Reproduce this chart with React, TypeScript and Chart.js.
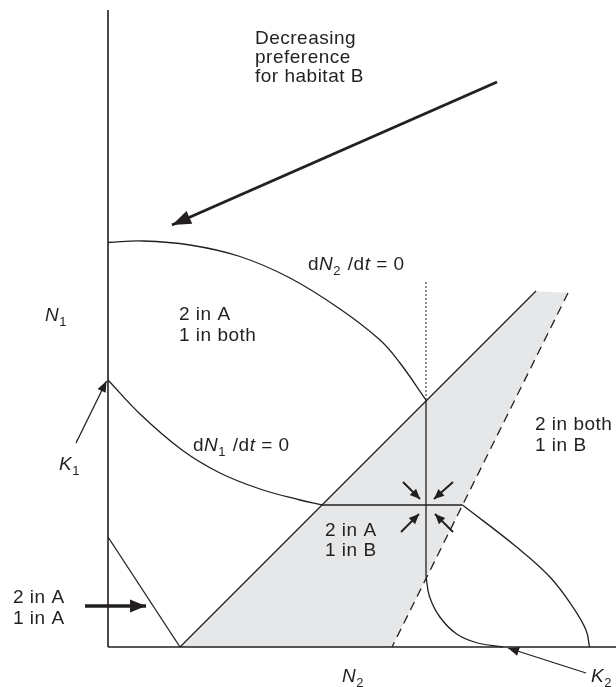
import React, { useEffect, useRef } from "react";
import { Chart, registerables } from "chart.js";

Chart.register(...registerables);

type P = { x: number; y: number };

// ---- scale extents (N2 horizontal, N1 vertical), arbitrary units ----
const N2_MIN = -21.6;
const N2_MAX = 101.6;
const N1_MIN = -8;
const N1_MAX = 129.4;

// ---- axes ----
const xAxisLine: P[] = [{ x: 0, y: 0 }, { x: 101.6, y: 0 }];
const yAxisLine: P[] = [{ x: 0, y: 0 }, { x: 0, y: 127.4 }];

// ---- shaded region (2 in A, 1 in B) ----
const shadedRegion: P[] = [
  { x: 14.4, y: 0 },
  { x: 85.6, y: 71.2 },
  { x: 92, y: 70.8 },
  { x: 56.8, y: 0 },
  { x: 14.4, y: 0 },
];
const diagonalBoundary: P[] = [{ x: 14.4, y: 0 }, { x: 85.6, y: 71.2 }];
const dashedBoundary: P[] = [{ x: 92, y: 70.8 }, { x: 56.8, y: 0 }];
const leftBoundary: P[] = [{ x: 0, y: 22 }, { x: 14.4, y: 0 }];

// ---- dN2/dt = 0 isocline ----
const n2IsoclineArc: P[] = [
  { x: 0, y: 80.9 },
  { x: 7, y: 81.2 },
  { x: 16.4, y: 80.4 },
  { x: 26.4, y: 78.1 },
  { x: 36.4, y: 73.8 },
  { x: 46.4, y: 67.6 },
  { x: 54.4, y: 61.4 },
  { x: 58.4, y: 56.8 },
  { x: 63.6, y: 49.4 },
];
const n2IsoclineDotted: P[] = [{ x: 63.6, y: 73 }, { x: 63.6, y: 49.4 }];
const n2IsoclineVertical: P[] = [{ x: 63.6, y: 49.4 }, { x: 63.6, y: 14.1 }];
const n2IsoclineTail: P[] = [
  { x: 63.6, y: 14.1 },
  { x: 64.3, y: 10.1 },
  { x: 66.3, y: 6.1 },
  { x: 69.6, y: 2.7 },
  { x: 73.6, y: 0.9 },
  { x: 79, y: 0 },
];

// ---- dN1/dt = 0 isocline ----
const n1IsoclineCurve: P[] = [
  { x: 0, y: 53.4 },
  { x: 6.4, y: 46.6 },
  { x: 14.8, y: 39.4 },
  { x: 22.4, y: 34.8 },
  { x: 30.4, y: 31.6 },
  { x: 38.4, y: 29.4 },
  { x: 42.8, y: 28.4 },
];
const n1IsoclineFlat: P[] = [{ x: 42.8, y: 28.4 }, { x: 70.9, y: 28.4 }];
const n1IsoclineTail: P[] = [
  { x: 70.9, y: 28.4 },
  { x: 81.6, y: 20.1 },
  { x: 88.3, y: 14.1 },
  { x: 92.9, y: 8.1 },
  { x: 95.6, y: 3.4 },
  { x: 96.3, y: 0 },
];

// ---- arrows (tail -> tip) ----
const preferenceArrow: P[] = [{ x: 77.8, y: 113 }, { x: 12.8, y: 84.4 }];
const k1Arrow: P[] = [{ x: -6.4, y: 40.8 }, { x: -0.3, y: 53.2 }];
const k2Arrow: P[] = [{ x: 95.6, y: -5.2 }, { x: 80, y: -0.2 }];
const oneInAArrow: P[] = [{ x: -4.6, y: 8.2 }, { x: 7.6, y: 8.2 }];
const eqArrowUL: P[] = [{ x: 59, y: 33 }, { x: 62.4, y: 29.6 }];
const eqArrowUR: P[] = [{ x: 69, y: 33 }, { x: 65.2, y: 29.6 }];
const eqArrowLL: P[] = [{ x: 58.6, y: 23 }, { x: 62.2, y: 26.6 }];
const eqArrowLR: P[] = [{ x: 69, y: 23 }, { x: 65.4, y: 26.6 }];

// ---- text labels ----
type Run = { t: string; i?: boolean; sub?: boolean };
type Label = { x: number; y: number; lines: Run[][]; gap?: number };

const labels: Label[] = [
  {
    x: 29.4,
    y: 120.6,
    gap: 19,
    lines: [[{ t: "Decreasing" }], [{ t: "preference" }], [{ t: "for habitat B" }]],
  },
  { x: 14.2, y: 65.4, gap: 21, lines: [[{ t: "2 in A" }], [{ t: "1 in both" }]] },
  {
    x: 40,
    y: 75.4,
    lines: [[{ t: "d" }, { t: "N", i: true }, { t: "2", sub: true }, { t: " /d" }, { t: "t", i: true }, { t: " = 0" }]],
  },
  {
    x: 17,
    y: 39.2,
    lines: [[{ t: "d" }, { t: "N", i: true }, { t: "1", sub: true }, { t: " /d" }, { t: "t", i: true }, { t: " = 0" }]],
  },
  { x: -12.6, y: 65.2, lines: [[{ t: "N", i: true }, { t: "1", sub: true }]] },
  { x: -9.8, y: 35.4, lines: [[{ t: "K", i: true }, { t: "1", sub: true }]] },
  { x: -19, y: 8.8, gap: 21, lines: [[{ t: "2 in A" }], [{ t: "1 in A" }]] },
  { x: 43.4, y: 22.2, gap: 20, lines: [[{ t: "2 in A" }], [{ t: "1 in B" }]] },
  { x: 85.4, y: 43.4, gap: 21, lines: [[{ t: "2 in both" }], [{ t: "1 in B" }]] },
  { x: 46.8, y: -7, lines: [[{ t: "N", i: true }, { t: "2", sub: true }]] },
  { x: 96.6, y: -7, lines: [[{ t: "K", i: true }, { t: "2", sub: true }]] },
];

const INK = "#231f20";
const SHADE = "#e6e7e8";
const FONT = "'Liberation Sans', Arial, sans-serif";

const arrowPlugin = {
  id: "arrowHeads",
  afterDatasetsDraw(chart: any) {
    const ctx = chart.ctx;
    chart.data.datasets.forEach((ds: any, i: number) => {
      if (!ds.arrowHead) return;
      const meta = chart.getDatasetMeta(i);
      const pts = meta.data;
      if (pts.length < 2) return;
      const tip = pts[pts.length - 1];
      const prev = pts[pts.length - 2];
      const a = Math.atan2(tip.y - prev.y, tip.x - prev.x);
      const { len, half } = ds.arrowHead;
      ctx.save();
      ctx.fillStyle = INK;
      ctx.beginPath();
      ctx.moveTo(tip.x, tip.y);
      ctx.lineTo(
        tip.x - len * Math.cos(a) + half * Math.sin(a),
        tip.y - len * Math.sin(a) - half * Math.cos(a)
      );
      ctx.lineTo(
        tip.x - len * Math.cos(a) - half * Math.sin(a),
        tip.y - len * Math.sin(a) + half * Math.cos(a)
      );
      ctx.closePath();
      ctx.fill();
      ctx.restore();
    });
  },
};

const textPlugin = {
  id: "textLabels",
  afterDraw(chart: any) {
    const ctx = chart.ctx;
    const xs = chart.scales.x;
    const ys = chart.scales.y;
    ctx.save();
    ctx.fillStyle = INK;
    ctx.textBaseline = "alphabetic";
    ctx.textAlign = "left";
    try {
      (ctx as any).letterSpacing = "0.5px";
    } catch (e) {}
    labels.forEach((lab) => {
      const px0 = xs.getPixelForValue(lab.x);
      let py = ys.getPixelForValue(lab.y);
      lab.lines.forEach((runs) => {
        let px = px0;
        runs.forEach((r) => {
          const size = r.sub ? 13 : 19;
          ctx.font = `${r.i ? "italic " : ""}${size}px ${FONT}`;
          const yy = r.sub ? py + 5 : py;
          ctx.fillText(r.t, px, yy);
          px += ctx.measureText(r.t).width + (r.sub ? 1 : 0);
        });
        py += lab.gap || 20;
      });
    });
    ctx.restore();
  },
};

function line(data: P[], extra: any = {}) {
  return {
    data,
    showLine: true,
    borderColor: INK,
    borderWidth: 1.3,
    pointRadius: 0,
    fill: false,
    tension: 0,
    ...extra,
  };
}

export default function App() {
  const ref = useRef<HTMLCanvasElement | null>(null);
  useEffect(() => {
    if (!ref.current) return;
    const chart = new Chart(ref.current, {
      type: "scatter",
      data: {
        datasets: [
          line(xAxisLine, { borderWidth: 1.6 }),
          line(yAxisLine, { borderWidth: 1.6 }),
          line(diagonalBoundary),
          line(dashedBoundary, { borderDash: [9, 6] }),
          line(leftBoundary),
          line(n2IsoclineArc, { tension: 0.4 }),
          line(n2IsoclineDotted, { borderWidth: 1, borderDash: [2, 2] }),
          line(n2IsoclineVertical),
          line(n2IsoclineTail, { tension: 0.4 }),
          line(n1IsoclineCurve, { tension: 0.4 }),
          line(n1IsoclineFlat),
          line(n1IsoclineTail, { tension: 0.4 }),
          line(preferenceArrow, { borderWidth: 3, arrowHead: { len: 19, half: 7 } }),
          line(k1Arrow, { borderWidth: 1.3, arrowHead: { len: 11, half: 4.5 } }),
          line(k2Arrow, { borderWidth: 1.3, arrowHead: { len: 11, half: 4.5 } }),
          line(oneInAArrow, { borderWidth: 3.5, arrowHead: { len: 16, half: 6.5 } }),
          line(eqArrowUL, { borderWidth: 2, arrowHead: { len: 10, half: 4.5 } }),
          line(eqArrowUR, { borderWidth: 2, arrowHead: { len: 10, half: 4.5 } }),
          line(eqArrowLL, { borderWidth: 2, arrowHead: { len: 10, half: 4.5 } }),
          line(eqArrowLR, { borderWidth: 2, arrowHead: { len: 10, half: 4.5 } }),
          {
            data: shadedRegion,
            showLine: true,
            borderWidth: 0,
            borderColor: "rgba(0,0,0,0)",
            backgroundColor: SHADE,
            pointRadius: 0,
            fill: "shape",
          },
        ] as any,
      },
      options: {
        animation: false,
        responsive: true,
        maintainAspectRatio: false,
        events: [],
        layout: { padding: 0 },
        plugins: {
          legend: { display: false },
          tooltip: { enabled: false },
          title: { display: false },
        },
        scales: {
          x: { type: "linear", display: false, min: N2_MIN, max: N2_MAX },
          y: { type: "linear", display: false, min: N1_MIN, max: N1_MAX },
        },
      },
      plugins: [arrowPlugin, textPlugin],
    });
    return () => chart.destroy();
  }, []);

  return (
    <div
      style={{
        position: "absolute",
        left: 0,
        top: 0,
        width: 616,
        height: 687,
        background: "#ffffff",
      }}
    >
      <canvas ref={ref} />
    </div>
  );
}
